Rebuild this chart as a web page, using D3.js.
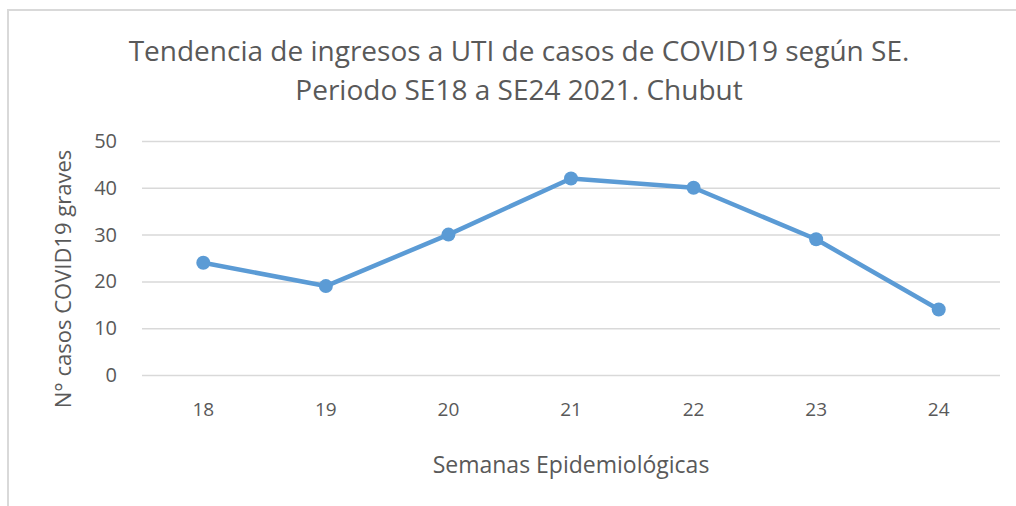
<!DOCTYPE html>
<meta charset="utf-8">
<style>
body { margin: 0; background: #fff; }
svg text { font-family: "Open Sans", sans-serif; fill: #595959; }
</style>
<script src="https://d3js.org/d3.v7.min.js"></script>
<svg id="chart"></svg>
<script>
// data
var weeks = ["18", "19", "20", "21", "22", "23", "24"];
var cases = [24, 19, 30, 42, 40, 29, 14];
var yTicks = [0, 10, 20, 30, 40, 50];
var titleLines = ["Tendencia de ingresos a UTI de casos de COVID19 según SE.", "Periodo SE18 a SE24 2021. Chubut"];

var svg_width = 1016, svg_height = 506;
var margin = {top: 141, right: 16, bottom: 131, left: 142};
var width = svg_width - margin.left - margin.right,
    height = svg_height - margin.top - margin.bottom;

var svg = d3.select("#chart").attr("width", svg_width).attr("height", svg_height);

// chart frame
svg.append("rect")
  .attr("x", 8).attr("y", 10)
  .attr("width", svg_width + 10).attr("height", svg_height + 10)
  .attr("fill", "none").attr("stroke", "#d9d9d9").attr("stroke-width", 2);

// title
svg.selectAll(".title").data(titleLines).enter()
  .append("text")
  .attr("x", 519)
  .attr("y", function(d, i) { return 61 + i * 39; })
  .attr("text-anchor", "middle")
  .style("font-size", "28px")
  .text(function(d) { return d; });

var g = svg.append("g").attr("transform", "translate(" + margin.left + "," + margin.top + ")");

var x = d3.scaleBand().domain(weeks).range([0, width]);
var y = d3.scaleLinear().domain([0, 50]).range([height, 0]);

// gridlines + y labels
var yAxis = g.append("g")
  .call(d3.axisLeft(y).tickValues(yTicks).tickSize(-width).tickPadding(25));
yAxis.select(".domain").remove();
yAxis.selectAll(".tick line").attr("stroke", "#d9d9d9").attr("stroke-width", 1.5);
yAxis.selectAll(".tick text").style("font-size", "20px").attr("fill", "#595959");

// x labels
var xAxis = g.append("g").attr("transform", "translate(0," + height + ")")
  .call(d3.axisBottom(x).tickSize(0).tickPadding(28));
xAxis.select(".domain").remove();
xAxis.selectAll(".tick text").style("font-size", "19px").attr("fill", "#595959");

// line
var line = d3.line()
  .x(function(d, i) { return x(weeks[i]) + x.bandwidth() / 2; })
  .y(function(d) { return y(d); });

g.append("path")
  .datum(cases)
  .attr("d", line)
  .attr("fill", "none")
  .attr("stroke", "#5b9bd5")
  .attr("stroke-width", 4.5)
  .attr("stroke-linejoin", "round");

g.selectAll(".dot").data(cases).enter()
  .append("circle")
  .attr("cx", function(d, i) { return x(weeks[i]) + x.bandwidth() / 2; })
  .attr("cy", function(d) { return y(d); })
  .attr("r", 7)
  .attr("fill", "#5b9bd5");

// axis titles
svg.append("text")
  .attr("x", 571).attr("y", 473)
  .attr("text-anchor", "middle")
  .style("font-size", "23px")
  .text("Semanas Epidemiológicas");

svg.append("text")
  .attr("transform", "translate(71,279) rotate(-90)")
  .attr("text-anchor", "middle")
  .style("font-size", "22px")
  .text("N° casos COVID19 graves");
</script>
